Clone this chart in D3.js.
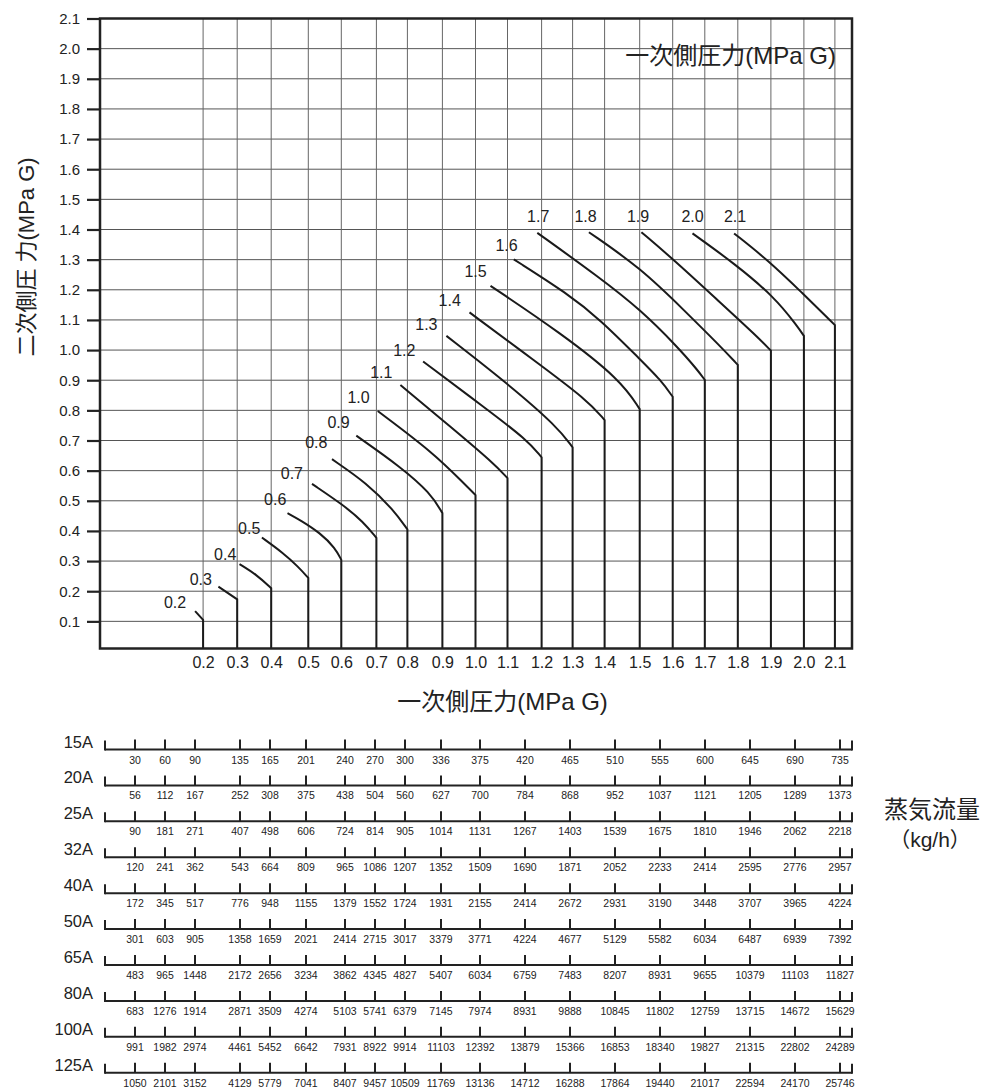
<!DOCTYPE html>
<html><head><meta charset="utf-8">
<script src="https://cdn.jsdelivr.net/npm/d3@7"></script>
<style>
body{margin:0;background:#fff}
text{font-family:"Liberation Sans","Noto Sans CJK JP",sans-serif;fill:#222}
</style>
</head><body>
<svg id="c" width="981" height="1089"></svg>
<script>
// ---------------- DATA ----------------
// primary pressures (MPa G), one curve each
const pressures = [0.2,0.3,0.4,0.5,0.6,0.7,0.8,0.9,1.0,1.1,1.2,1.3,1.4,1.5,1.6,1.7,1.8,1.9,2.0,2.1];
// critical (maximum) flow for each primary pressure, expressed on the 15A flow axis (kg/h)
const critFlow = [98.1,132.2,166.2,203.3,236.3,271.4,302.4,337.4,370.5,402.5,436.6,467.6,499.6,534.7,567.7,599.8,632.8,665.9,698.9,729.9];
// secondary pressure where each curve meets its vertical line (MPa G)
const kneeP2 = [0.105,0.173,0.210,0.244,0.304,0.377,0.405,0.459,0.519,0.575,0.644,0.677,0.768,0.804,0.845,0.901,0.951,0.998,1.047,1.083];
// curve points before the knee: [flow (15A kg/h), secondary pressure]
const curvePoints = [
  [[90.1,0.134]],
  [[113.4,0.215]],
  [[134.5,0.290],[151.9,0.254]],
  [[156.9,0.378],[178.2,0.327],[193.3,0.281]],
  [[182.5,0.459],[195.3,0.436],[215.3,0.393],[230.3,0.343]],
  [[207,0.556],[238.3,0.486],[258.3,0.430]],
  [[227,0.638],[262,0.558],[288.4,0.470]],
  [[251.3,0.716],[295.4,0.613],[325.4,0.526]],
  [[272.7,0.798],[328.4,0.659],[358.5,0.559]],
  [[295.4,0.884],[345.4,0.746],[388.5,0.625]],
  [[318.1,0.962],[378.5,0.812],[422.2,0.702]],
  [[341.4,1.047],[402.2,0.890],[452.3,0.746]],
  [[364.5,1.125],[428.6,0.967],[482.3,0.834]],
  [[385.5,1.213],[455.6,1.057],[515.7,0.901]],
  [[408.8,1.301],[462.3,1.188],[495.6,1.100],[535.7,0.967],[555.7,0.901]],
  [[432.3,1.389],[495.6,1.238],[535.7,1.133],[572.4,1.011],[592.5,0.934]],
  [[483.9,1.391],[535.7,1.272],[578.8,1.133],[615.8,1.011]],
  [[536.4,1.391],[569,1.299],[612.5,1.166],[652.5,1.044]],
  [[587.5,1.387],[629.1,1.288],[669.2,1.177],[692.6,1.078]],
  [[629.1,1.387],[662.6,1.299],[695.9,1.194]]
];
// curve label anchor points (data units)
const labelFlow = [70,95.8,120.2,144.2,170.2,186.9,211.3,233.6,253.6,276.3,299.3,321.4,344.7,370.5,401.5,433.2,480.6,533,587.5,630.1];
const labelP2   = [0.163,0.240,0.323,0.410,0.506,0.593,0.693,0.762,0.845,0.928,1.000,1.087,1.166,1.260,1.349,1.443,1.443,1.443,1.443,1.443];
// y axis ticks
const yTicks = [0.1,0.2,0.3,0.4,0.5,0.6,0.7,0.8,0.9,1.0,1.1,1.2,1.3,1.4,1.5,1.6,1.7,1.8,1.9,2.0,2.1];

// flow table (kg/h) by valve size
const sizes = ["15A","20A","25A","32A","40A","50A","65A","80A","100A","125A"];
const flow15A  = [30,60,90,135,165,201,240,270,300,336,375,420,465,510,555,600,645,690,735];
const flow20A  = [56,112,167,252,308,375,438,504,560,627,700,784,868,952,1037,1121,1205,1289,1373];
const flow25A  = [90,181,271,407,498,606,724,814,905,1014,1131,1267,1403,1539,1675,1810,1946,2062,2218];
const flow32A  = [120,241,362,543,664,809,965,1086,1207,1352,1509,1690,1871,2052,2233,2414,2595,2776,2957];
const flow40A  = [172,345,517,776,948,1155,1379,1552,1724,1931,2155,2414,2672,2931,3190,3448,3707,3965,4224];
const flow50A  = [301,603,905,1358,1659,2021,2414,2715,3017,3379,3771,4224,4677,5129,5582,6034,6487,6939,7392];
const flow65A  = [483,965,1448,2172,2656,3234,3862,4345,4827,5407,6034,6759,7483,8207,8931,9655,10379,11103,11827];
const flow80A  = [683,1276,1914,2871,3509,4274,5103,5741,6379,7145,7974,8931,9888,10845,11802,12759,13715,14672,15629];
const flow100A = [991,1982,2974,4461,5452,6642,7931,8922,9914,11103,12392,13879,15366,16853,18340,19827,21315,22802,24289];
const flow125A = [1050,2101,3152,4129,5779,7041,8407,9457,10509,11769,13136,14712,16288,17864,19440,21017,22594,24170,25746];
const flowRows = [flow15A,flow20A,flow25A,flow32A,flow40A,flow50A,flow65A,flow80A,flow100A,flow125A];
const flowAxisMax15A = 747;

// ---------------- LAYOUT ----------------
const svg = d3.select("#c");
svg.append("rect").attr("width",981).attr("height",1089).attr("fill","#fff");
const plot = {left:100, right:852, top:18.5, bottom:648.5};
const y = d3.scaleLinear().domain([0,2.1]).range([651.5,18.5]);
const x = d3.scaleLinear().domain([0,flowAxisMax15A]).range([105,852]);

// grid
const g = svg.append("g");
g.selectAll(".hg").data(yTicks.filter(v=>v<2.05)).join("line")
  .attr("x1",plot.left).attr("x2",plot.right)
  .attr("y1",d=>y(d)).attr("y2",d=>y(d))
  .attr("stroke","#555").attr("stroke-width",1);
g.selectAll(".vg").data(critFlow).join("line")
  .attr("x1",d=>x(d)).attr("x2",d=>x(d))
  .attr("y1",y(2.1)).attr("y2",plot.bottom)
  .attr("stroke","#666").attr("stroke-width",1);

// curves
const line = d3.line().x(d=>x(d[0])).y(d=>y(d[1])).curve(d3.curveBasis);
pressures.forEach((p,i)=>{
  const pts = curvePoints[i].concat([[critFlow[i],kneeP2[i]]]);
  svg.append("path").attr("d",line(pts)+"L"+x(critFlow[i])+","+plot.bottom)
    .attr("fill","none").attr("stroke","#1a1a1a").attr("stroke-width",2);
  svg.append("text").attr("x",x(labelFlow[i])).attr("y",y(labelP2[i]))
    .attr("dy","0.36em").attr("text-anchor","middle")
    .attr("font-size",16).text(p.toFixed(1));
});

// frame
svg.append("rect").attr("x",plot.left).attr("y",plot.top)
  .attr("width",plot.right-plot.left).attr("height",plot.bottom-plot.top)
  .attr("fill","none").attr("stroke","#222").attr("stroke-width",2.5);

// y axis
const yAxis = svg.append("g").attr("transform",`translate(${plot.left},0)`)
  .call(d3.axisLeft(y).tickValues(yTicks).tickFormat(d3.format(".1f")).tickSize(13).tickPadding(7));
yAxis.select(".domain").remove();
yAxis.selectAll(".tick line").attr("stroke","#222").attr("stroke-width",2.2);
yAxis.selectAll(".tick text").attr("font-size",15).attr("font-family",null).attr("fill","#222");

// x axis labels (primary pressure at each critical flow)
const xAxis = svg.append("g").attr("transform",`translate(0,${plot.bottom})`)
  .call(d3.axisBottom(x).tickValues(critFlow).tickFormat((d,i)=>pressures[i].toFixed(1)).tickSize(0).tickPadding(8));
xAxis.select(".domain").remove();
xAxis.selectAll(".tick text").attr("font-size",16).attr("font-family",null).attr("fill","#222");

// titles
svg.append("text").attr("x",836).attr("y",55).attr("dy","0.36em").attr("text-anchor","end")
  .attr("font-size",24).text("一次側圧力(MPa G)");
svg.append("text").attr("x",502.5).attr("y",701).attr("dy","0.36em").attr("text-anchor","middle")
  .attr("font-size",24).text("一次側圧力(MPa G)");
svg.append("text").attr("transform","translate(26,257) rotate(-90)").attr("dy","0.36em")
  .attr("text-anchor","middle").attr("font-size",22).text("二次側圧 力(MPa G)");

// flow table
const rowY = d3.scalePoint().domain(sizes).range([749.5,1072.7]);
sizes.forEach((s,r)=>{
  const yy = rowY(s);
  const row = svg.append("g");
  row.append("line").attr("x1",x(0)).attr("x2",x(flowAxisMax15A)).attr("y1",yy).attr("y2",yy)
    .attr("stroke","#222").attr("stroke-width",2);
  row.append("line").attr("x1",x(0)).attr("x2",x(0)).attr("y1",yy-9).attr("y2",yy+1)
    .attr("stroke","#222").attr("stroke-width",2);
  row.append("line").attr("x1",x(flowAxisMax15A)).attr("x2",x(flowAxisMax15A)).attr("y1",yy-9).attr("y2",yy+1)
    .attr("stroke","#222").attr("stroke-width",2);
  row.selectAll(".t").data(flowRows[r]).join("line")
    .attr("x1",(d,i)=>x(flow15A[i])).attr("x2",(d,i)=>x(flow15A[i]))
    .attr("y1",yy-10).attr("y2",yy).attr("stroke","#222").attr("stroke-width",2);
  row.selectAll(".v").data(flowRows[r]).join("text")
    .attr("x",(d,i)=>x(flow15A[i])).attr("y",yy+14).attr("text-anchor","middle")
    .attr("font-size",10.5).text(d=>d);
  row.append("text").attr("x",93).attr("y",yy-2).attr("text-anchor","end")
    .attr("font-size",16.5).text(s);
});
svg.append("text").attr("x",932).attr("y",809).attr("dy","0.36em").attr("text-anchor","middle")
  .attr("font-size",24).text("蒸気流量");
svg.append("text").attr("x",930).attr("y",839).attr("dy","0.36em").attr("text-anchor","middle")
  .attr("font-size",21).text("（kg/h）");
</script>
</body></html>
